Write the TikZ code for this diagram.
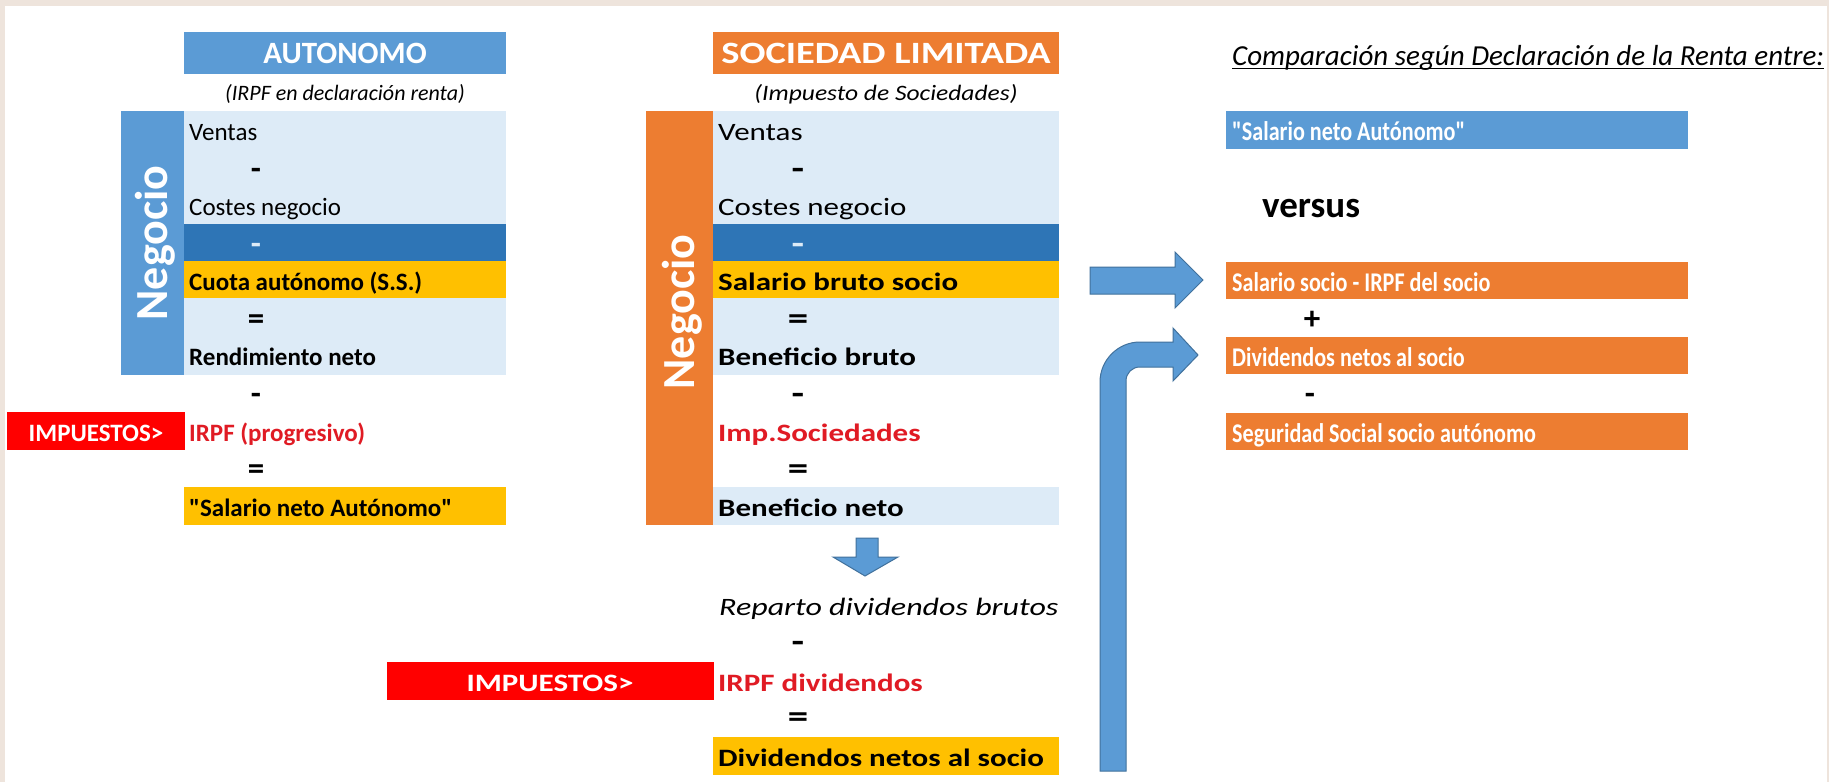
\documentclass[tikz,border=0pt]{standalone}
\usepackage{fontspec}
\usepackage{graphicx}
\setmainfont{Carlito}
\usetikzlibrary{calc}
\definecolor{bgbeige}{HTML}{EEE4DC}
\definecolor{hblue}{HTML}{5B9BD5}
\definecolor{lblue}{HTML}{DDEBF7}
\definecolor{dblue}{HTML}{2E75B6}
\definecolor{gold}{HTML}{FFC000}
\definecolor{orng}{HTML}{ED7D31}
\definecolor{rbox}{HTML}{FF0000}
\definecolor{rtxt}{HTML}{E01B24}
\definecolor{aedge}{HTML}{41719C}
\newcommand\myfs[1]{\fontsize{#1}{#1}\selectfont}
\newcommand\mx[1]{\scalebox{1.24}[1]{#1}}
\newcommand\rx[1]{\scalebox{0.82}[1]{#1}}
\newcommand\qq{\textquotedbl}
\newcommand\cellbox[6]{\node[cell, fill=#6, minimum width={#4-#2}, minimum height={#5-#3}] (#1) at ({(#2+#4)/2},{(#3+#5)/2}) {};}
\begin{document}
\begin{tikzpicture}[x=1pt,y=-1pt,
  cell/.style={rectangle, inner sep=0pt, outer sep=0pt, draw=none},
  lab/.style={inner sep=0pt, anchor=base west, font=\myfs{25}},
  blab/.style={lab, font=\myfs{25}\bfseries},
  rlab/.style={blab, text=rtxt},
  wlab/.style={blab, text=white},
  cwlab/.style={lab, font=\myfs{27}\bfseries, text=white},
  sym/.style={inner sep=0pt, anchor=base, font=\myfs{33}\bfseries},
  head/.style={inner sep=0pt, anchor=base, font=\myfs{31}\bfseries, text=white},
  sub/.style={inner sep=0pt, anchor=base, font=\myfs{22}\itshape},
  neg/.style={inner sep=0pt, anchor=base, rotate=90, font=\myfs{46}\bfseries, text=white},
  imp/.style={inner sep=0pt, anchor=base, font=\myfs{25}\bfseries, text=white},
  blockarrow/.style={fill=hblue, draw=aedge, line width=1pt, line join=miter}
]
\useasboundingbox (0,0) rectangle (1829,782);
\fill[bgbeige] (0,0) rectangle (1829,782);
\fill[white] (5,6) rectangle (1827,782);

% ---------------- AUTONOMO column ----------------
\cellbox{autH}{184}{32}{506}{74}{hblue}
\node[head] (autHt) at (345,63) {AUTONOMO};
\node[sub] (autS) at (345,100) {(IRPF en declaración renta)};
\cellbox{autN}{121}{111}{184}{375}{hblue}
\node[neg] (autNt) at (167,243) {Negocio};
\cellbox{autB}{184}{111}{506}{375}{lblue}
\cellbox{autD}{184}{224}{506}{261}{dblue}
\cellbox{autY}{184}{261}{506}{298}{gold}
\cellbox{autF}{184}{487}{506}{525}{gold}
\cellbox{imp1}{7}{412}{185}{450}{rbox}
\node[imp] (imp1t) at (96,441) {IMPUESTOS>};

\node[lab] (a1) at (189,140) {Ventas};
\node[sym] (a2) at (256,179) {-};
\node[lab] (a3) at (189,215) {Costes negocio};
\node[sym, text=lblue] (a4) at (256,254) {-};
\node[blab] (a5) at (189,290) {Cuota autónomo (S.S.)};
\node[sym] (a6) at (256,329) {=};
\node[blab] (a7) at (189,365) {Rendimiento neto};
\node[sym] (a8) at (256,404) {-};
\node[rlab] (a9) at (189,441) {IRPF (progresivo)};
\node[sym] (a10) at (256,479) {=};
\node[blab] (a11) at (189,516) {\qq Salario neto Autónomo\qq};

% ---------------- SOCIEDAD LIMITADA column ----------------
\cellbox{slH}{713}{32}{1059}{74}{orng}
\node[head] (slHt) at (886,63) {\mx{SOCIEDAD LIMITADA}};
\node[sub] (slS) at (886,100) {\scalebox{1.16}[1]{(Impuesto de Sociedades)}};
\cellbox{slN}{646}{111}{713}{525}{orng}
\node[neg] (slNt) at (694,312) {Negocio};
\cellbox{slB}{713}{111}{1059}{375}{lblue}
\cellbox{slD}{713}{224}{1059}{261}{dblue}
\cellbox{slY}{713}{261}{1059}{298}{gold}
\cellbox{slF}{713}{487}{1059}{525}{lblue}
\cellbox{slG}{713}{737}{1059}{775}{gold}
\cellbox{imp2}{387}{662}{714}{700}{rbox}
\node[imp] (imp2t) at (550,691) {\mx{IMPUESTOS>}};

\node[lab] (s1) at (718,140) {\mx{Ventas}};
\node[sym] (s2) at (798,179) {\mx{-}};
\node[lab] (s3) at (718,215) {\mx{Costes negocio}};
\node[sym, text=lblue] (s4) at (798,254) {\mx{-}};
\node[blab] (s5) at (718,290) {\mx{Salario bruto socio}};
\node[sym] (s6) at (798,329) {\mx{=}};
\node[blab] (s7) at (718,365) {\mx{Beneficio bruto}};
\node[sym] (s8) at (798,404) {\mx{-}};
\node[rlab] (s9) at (718,441) {\mx{Imp.Sociedades}};
\node[sym] (s10) at (798,479) {\mx{=}};
\node[blab] (s11) at (718,516) {\mx{Beneficio neto}};
\node[lab, font=\myfs{25}\itshape] (s12) at (719,615) {\scalebox{1.28}[1]{Reparto dividendos brutos}};
\node[sym] (s13) at (798,652) {\mx{-}};
\node[rlab] (s14) at (718,691) {\mx{IRPF dividendos}};
\node[sym] (s15) at (798,727) {\mx{=}};
\node[blab] (s16) at (718,766) {\mx{Dividendos netos al socio}};

\draw[blockarrow] (856,538) -- (878,538) -- (878,557) -- (898,557) -- (865,576) -- (833,557) -- (856,557) -- cycle;

% ---------------- Comparison column ----------------
\node[lab, font=\myfs{29}\itshape] (tit) at (1232,65) {Comparación según Declaración de la Renta entre:};
\draw[line width=1.2pt] ($(tit.base west)+(0,3.5)$) -- ($(tit.base east)+(0,3.5)$);
\cellbox{c1}{1226}{111}{1688}{149}{hblue}
\node[cwlab] (c1t) at (1232,140) {\rx{\qq Salario neto Autónomo\qq}};
\node[blab, font=\myfs{37}\bfseries] (vs) at (1262,217) {versus};
\cellbox{c2}{1226}{262}{1688}{299}{orng}
\node[cwlab] (c2t) at (1232,291) {\rx{Salario socio - IRPF del socio}};
\node[sym] (cp) at (1312,329) {+};
\cellbox{c3}{1226}{337}{1688}{374}{orng}
\node[cwlab] (c3t) at (1232,366) {\rx{Dividendos netos al socio}};
\node[sym] (cm) at (1310,404) {-};
\cellbox{c4}{1226}{413}{1688}{450}{orng}
\node[cwlab] (c4t) at (1232,442) {\rx{Seguridad Social socio autónomo}};

% arrows
\draw[blockarrow] (1090,267) -- (1175,267) -- (1175,252) -- (1203,280) -- (1175,308) -- (1175,294) -- (1090,294) -- cycle;
\draw[blockarrow] (1100,771) -- (1100,382) .. controls (1100,360) and (1118,342) .. (1140,342) -- (1173,342) -- (1173,328) -- (1198,355) -- (1173,381) -- (1173,367) -- (1140,367) .. controls (1132,367) and (1126,373) .. (1126,381) -- (1126,771) -- cycle;
\end{tikzpicture}
\end{document}
